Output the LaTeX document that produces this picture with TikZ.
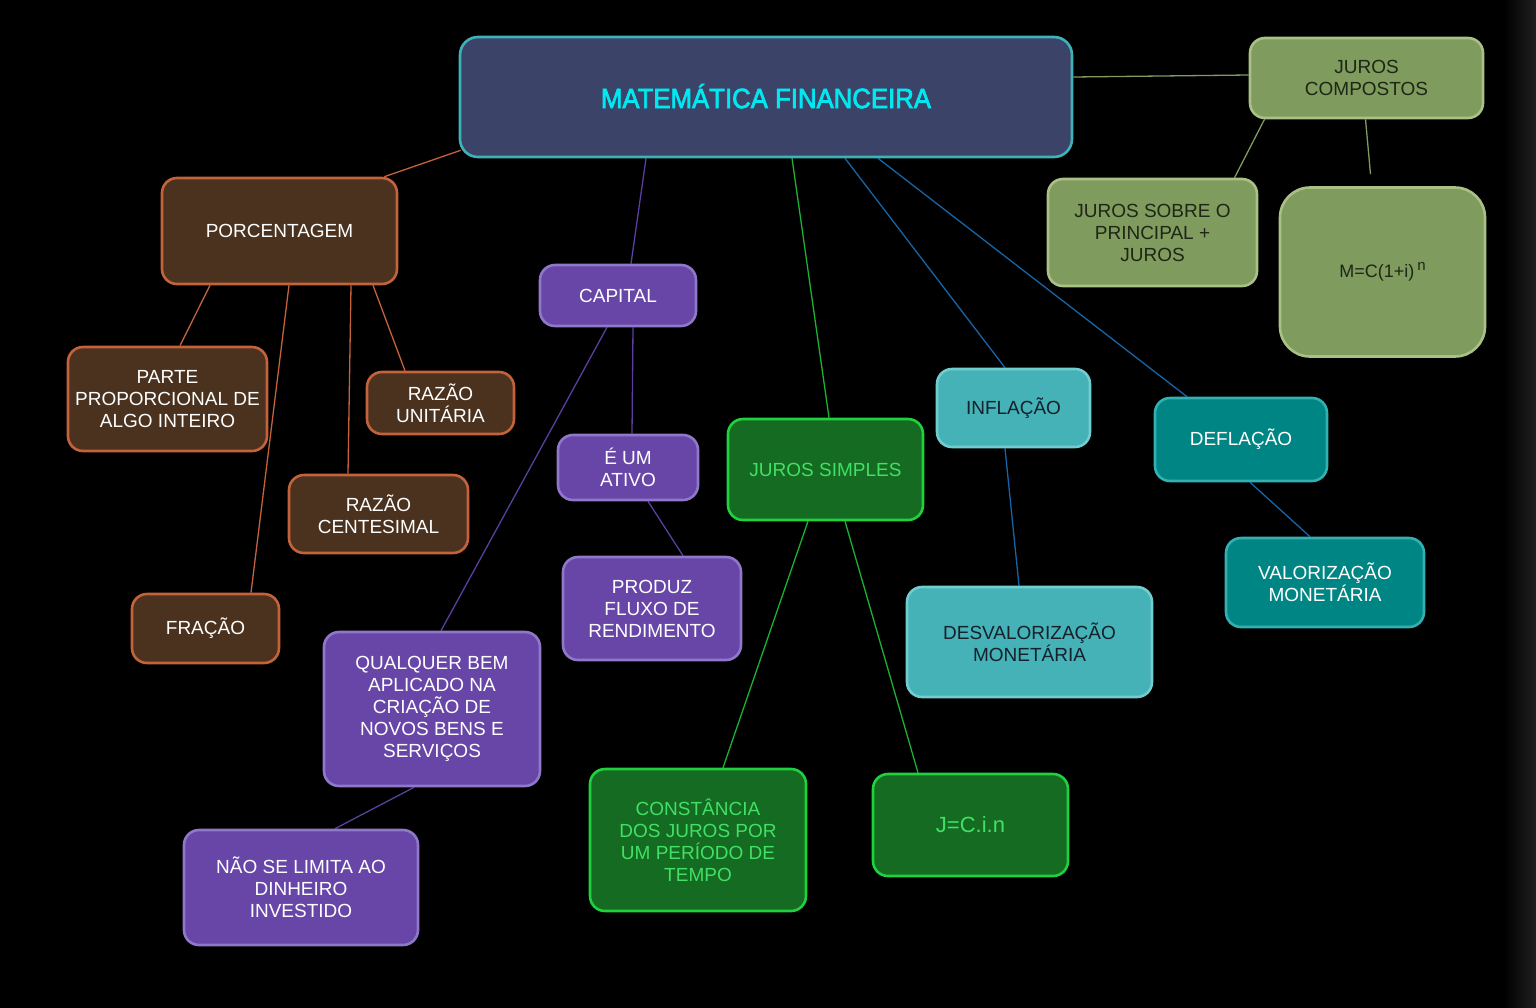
\documentclass[tikz,border=0pt]{standalone}
\usepackage{fontspec}
\setmainfont{Liberation Sans}
\newfontfamily\titlefont[FakeBold=2.5, FakeStretch=0.92]{Liberation Sans}
\usepackage{tikz}
\usetikzlibrary{backgrounds}

\definecolor{titlefill}{HTML}{3B4468}
\definecolor{titleline}{HTML}{3DB3B8}
\definecolor{titletext}{HTML}{00E8F0}
\definecolor{olivefill}{HTML}{7F9B5E}
\definecolor{oliveline}{HTML}{A9C184}
\definecolor{olivetext}{HTML}{1E2616}
\definecolor{brownfill}{HTML}{4A321F}
\definecolor{brownline}{HTML}{C4623C}
\definecolor{purplefill}{HTML}{6846A8}
\definecolor{purpleline}{HTML}{8F78C9}
\definecolor{purplelink}{HTML}{5A3EA0}
\definecolor{greenfill}{HTML}{146B21}
\definecolor{greenline}{HTML}{1FD13C}
\definecolor{greentext}{HTML}{42E066}
\definecolor{aquafill}{HTML}{44B2B6}
\definecolor{aqualine}{HTML}{72CDD0}
\definecolor{aquatext}{HTML}{15202A}
\definecolor{tealfill}{HTML}{008585}
\definecolor{tealline}{HTML}{33B0B2}
\definecolor{bluelink}{HTML}{1565A8}

\begin{document}
\begin{tikzpicture}[x=1pt, y=-1pt,
  box/.style={draw, line width=2.6pt, rounded corners=15pt, align=center,
              inner sep=4pt, font=\fontsize{19}{22}\selectfont},
  titlebox/.style={box, fill=titlefill, draw=titleline, text=titletext,
                   rounded corners=18pt, font=\titlefont\fontsize{28}{30}\selectfont},
  olivebox/.style={box, fill=olivefill, draw=oliveline, text=olivetext},
  brownbox/.style={box, fill=brownfill, draw=brownline, text=white},
  purplebox/.style={box, fill=purplefill, draw=purpleline, text=white},
  greenbox/.style={box, fill=greenfill, draw=greenline, text=greentext},
  aquabox/.style={box, fill=aquafill, draw=aqualine, text=aquatext},
  tealbox/.style={box, fill=tealfill, draw=tealline, text=white},
  link/.style={line width=1.3pt}]
  \useasboundingbox (0,0) rectangle (1536,1007);

  % main topic
  \node[titlebox, minimum width=612, minimum height=120] (title) at (766,97) {\raisebox{2pt}{MATEMÁTICA FINANCEIRA}};

  % compound interest
  \node[olivebox, minimum width=233, minimum height=80] (compostos) at (1366.5,78) {JUROS\\COMPOSTOS};
  \node[olivebox, minimum width=209, minimum height=107] (sobre) at (1152.5,232.5) {JUROS SOBRE O\\PRINCIPAL +\\JUROS};
  \node[olivebox, minimum width=205, minimum height=169, rounded corners=30pt,
        font=\fontsize{18}{20}\selectfont] (montante) at (1382.5,272)
        {M=C(1+i)\,\raisebox{7pt}{\fontsize{15}{15}\selectfont n}};

  % percentage
  \node[brownbox, minimum width=235, minimum height=106] (porc) at (279.5,231) {PORCENTAGEM};
  \node[brownbox, minimum width=199, minimum height=104] (parte) at (167.5,399) {PARTE\\PROPORCIONAL DE\\ALGO INTEIRO};
  \node[brownbox, minimum width=147, minimum height=62] (unitaria) at (440.5,403) {RAZÃO\\UNITÁRIA};
  \node[brownbox, minimum width=179, minimum height=78] (centesimal) at (378.5,514) {RAZÃO\\CENTESIMAL};
  \node[brownbox, minimum width=147, minimum height=69] (fracao) at (205.5,628.5) {FRAÇÃO};

  % capital
  \node[purplebox, minimum width=156, minimum height=61] (capital) at (618,295.5) {CAPITAL};
  \node[purplebox, minimum width=140, minimum height=65] (ativo) at (628,467.5) {É UM\\ATIVO};
  \node[purplebox, minimum width=178, minimum height=103] (produz) at (652,608.5) {PRODUZ\\FLUXO DE\\RENDIMENTO};
  \node[purplebox, minimum width=216, minimum height=154] (qualquer) at (432,709) {QUALQUER BEM\\APLICADO NA\\CRIAÇÃO DE\\NOVOS BENS E\\SERVIÇOS};
  \node[purplebox, minimum width=234, minimum height=115] (naolimita) at (301,887.5) {NÃO SE LIMITA AO\\DINHEIRO\\INVESTIDO};

  % simple interest
  \node[greenbox, minimum width=195, minimum height=101] (simples) at (825.5,469.5) {JUROS SIMPLES};
  \node[greenbox, minimum width=216, minimum height=142] (constancia) at (698,840) {CONSTÂNCIA\\DOS JUROS POR\\UM PERÍODO DE\\TEMPO};
  \node[greenbox, minimum width=195, minimum height=102, font=\fontsize{22}{24}\selectfont] (formula) at (970.5,825) {J=C.i.n};

  % inflation and deflation
  \node[aquabox, minimum width=153, minimum height=78] (inflacao) at (1013.5,408) {INFLAÇÃO};
  \node[aquabox, minimum width=245, minimum height=110] (desval) at (1029.5,642) {DESVALORIZAÇÃO\\MONETÁRIA};
  \node[tealbox, minimum width=172, minimum height=83] (deflacao) at (1241,439.5) {DEFLAÇÃO};
  \node[tealbox, minimum width=198, minimum height=89] (valoriz) at (1325,582.5) {VALORIZAÇÃO\\MONETÁRIA};

  \begin{scope}[on background layer]
    \fill[black] (-6,-6) rectangle (1542,1013);
    \shade[left color=black, right color=white!15!black] (1504,-6) rectangle (1542,1013);

    \draw[link, olivefill] ([yshift=20]title.east) -- ([yshift=3]compostos.west);
    \draw[link, olivefill] ([xshift=-102]compostos.south) -- ([xshift=82]sobre.north);
    \draw[link, olivefill] ([xshift=-1]compostos.south) -- ([xshift=-12,yshift=12]montante.north);

    \draw[link, brownline] ([xshift=2,yshift=8]title.south west) -- ([xshift=-14]porc.north east);
    \draw[link, brownline] ([xshift=-69.5]porc.south) -- ([xshift=12.5]parte.north);
    \draw[link, brownline] ([xshift=9.5]porc.south) -- ([xshift=45.5]fracao.north);
    \draw[link, brownline] ([xshift=71.5]porc.south) -- ([xshift=-30.5]centesimal.north);
    \draw[link, brownline] ([xshift=93.5]porc.south) -- ([xshift=-35.5]unitaria.north);

    \draw[link, purplelink] ([xshift=-120]title.south) -- ([xshift=13]capital.north);
    \draw[link, purplelink] ([xshift=-11]capital.south) -- ([xshift=9]qualquer.north);
    \draw[link, purplelink] ([xshift=15]capital.south) -- ([xshift=4]ativo.north);
    \draw[link, purplelink] ([xshift=20]ativo.south) -- ([xshift=31]produz.north);
    \draw[link, purplelink] ([xshift=-18]qualquer.south) -- ([xshift=34]naolimita.north);

    \draw[link, greenline!85!black] ([xshift=26]title.south) -- ([xshift=3.5]simples.north);
    \draw[link, greenline!85!black] ([xshift=-17.5]simples.south) -- ([xshift=25]constancia.north);
    \draw[link, greenline!85!black] ([xshift=19.5]simples.south) -- ([xshift=-52.5]formula.north);

    \draw[link, bluelink] ([xshift=79]title.south) -- ([xshift=-8.5]inflacao.north);
    \draw[link, bluelink] ([xshift=-8.5]inflacao.south) -- ([xshift=-10.5]desval.north);
    \draw[link, bluelink] ([xshift=112]title.south) -- ([xshift=-54]deflacao.north);
    \draw[link, bluelink] ([xshift=9]deflacao.south) -- ([xshift=-15]valoriz.north);
  \end{scope}
\end{tikzpicture}
\end{document}
